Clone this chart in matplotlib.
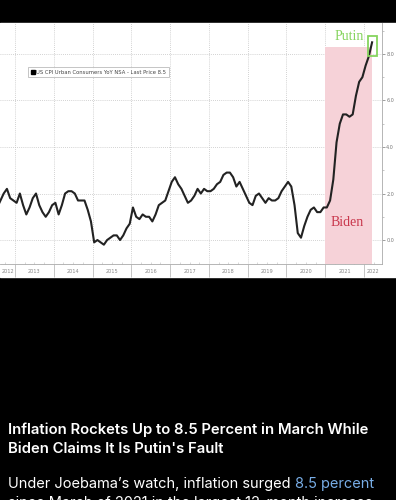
import matplotlib.pyplot as plt
from matplotlib.patches import Rectangle
from matplotlib.lines import Line2D
import matplotlib.transforms as mtransforms

# US CPI YoY NSA, monthly, Jul 2012 .. Mar 2022
start_year = 2012
start_month = 7
cpi_2012 = [1.4, 1.7, 2.0, 2.2, 1.8, 1.7]
cpi_2013 = [1.6, 2.0, 1.5, 1.1, 1.4, 1.8, 2.0, 1.5, 1.2, 1.0, 1.2, 1.5]
cpi_2014 = [1.6, 1.1, 1.5, 2.0, 2.1, 2.1, 2.0, 1.7, 1.7, 1.7, 1.3, 0.8]
cpi_2015 = [-0.1, 0.0, -0.1, -0.2, 0.0, 0.1, 0.2, 0.2, 0.0, 0.2, 0.5, 0.7]
cpi_2016 = [1.4, 1.0, 0.9, 1.1, 1.0, 1.0, 0.8, 1.1, 1.5, 1.6, 1.7, 2.1]
cpi_2017 = [2.5, 2.7, 2.4, 2.2, 1.9, 1.6, 1.7, 1.9, 2.2, 2.0, 2.2, 2.1]
cpi_2018 = [2.1, 2.2, 2.4, 2.5, 2.8, 2.9, 2.9, 2.7, 2.3, 2.5, 2.2, 1.9]
cpi_2019 = [1.6, 1.5, 1.9, 2.0, 1.8, 1.6, 1.8, 1.7, 1.7, 1.8, 2.1, 2.3]
cpi_2020 = [2.5, 2.3, 1.5, 0.3, 0.1, 0.6, 1.0, 1.3, 1.4, 1.2, 1.2, 1.4]
cpi_2021 = [1.4, 1.7, 2.6, 4.2, 5.0, 5.4, 5.4, 5.3, 5.4, 6.2, 6.8, 7.0]
cpi_2022 = [7.5, 7.9, 8.5]

year_labels = [str(y) for y in range(2012, 2023)]
y_ticks = [0, 2, 4, 6, 8]
biden_start = 2021.0
shade_top = 8.3
last_price = 8.5

cpi = (cpi_2012 + cpi_2013 + cpi_2014 + cpi_2015 + cpi_2016 + cpi_2017
       + cpi_2018 + cpi_2019 + cpi_2020 + cpi_2021 + cpi_2022)
t = [start_year + (start_month - 1 + i + 0.5) / 12 for i in range(len(cpi))]

W, H = 396, 500
fig = plt.figure(figsize=(W / 100, H / 100), dpi=100, facecolor='black')
fig.patches.append(Rectangle((0, 1 - 277 / H), 1, 254 / H, transform=fig.transFigure,
                             color='white', zorder=-5))

ax = fig.add_axes([0, 1 - 264 / H, 382 / W, 241 / H])
ax.set_facecolor('white')
x0, x1 = 2012.613, 2022.464
ax.set_xlim(x0, x1)
ax.set_ylim(-1.03, 9.33)

for s in ['left', 'top']:
    ax.spines[s].set_visible(False)
for s in ['right', 'bottom']:
    ax.spines[s].set_color('#aaaaaa')
    ax.spines[s].set_linewidth(0.6)

# y axis on the right
ax.yaxis.tick_right()
ax.set_yticks(y_ticks)
ax.set_yticklabels([f'{v:.1f}' for v in y_ticks])
ax.set_yticks([1, 3, 5, 7, 9], minor=True)
ax.tick_params(axis='y', which='major', labelsize=3.5, labelcolor='#777777',
               color='#777777', length=2, width=0.5, pad=1)
ax.tick_params(axis='y', which='minor', color='#999999', length=1.2, width=0.4)

# x axis: year separators + quarter marks
yrs = list(range(2013, 2023))
ax.set_xticks(yrs)
ax.set_xticklabels([])
ax.set_xticks([y + q / 4 for y in range(2012, 2023) for q in range(1, 4)
               if x0 < y + q / 4 < x1], minor=True)
ax.tick_params(axis='x', which='major', direction='out', length=9.5, width=0.6, color='#bbbbbb')
ax.tick_params(axis='x', which='minor', direction='in', length=1.5, width=0.4, color='#bbbbbb')

trans = mtransforms.blended_transform_factory(ax.transData, ax.transAxes)
for lab in year_labels:
    y = int(lab)
    c = (max(y, x0) + min(y + 1, x1)) / 2
    ax.text(c, -0.033, lab, transform=trans, ha='center', va='center',
            fontsize=3.6, color='#888888', clip_on=False)

ax.grid(True, which='major', linestyle=(0, (1, 1.5)), color='#c4c4c4', linewidth=0.6)
ax.set_axisbelow(True)

# Biden shading
ax.add_patch(Rectangle((biden_start, -1.03), t[-1] - biden_start, shade_top + 1.03,
                       facecolor='#f6d2d8', edgecolor='none', zorder=1))

ax.plot(t, cpi, color='#222222', lw=1.5, zorder=3, solid_joinstyle='round')

ax.text(2021.56, 0.77, 'Biden', fontsize=10, color='#c9374c', ha='center', va='center',
        family='Liberation Serif', zorder=4)
ax.text(2021.61, 8.77, 'Putin', fontsize=10, color='#86d45e', ha='center', va='center',
        family='Liberation Serif', zorder=4)
ax.add_patch(Rectangle((2022.10, 7.91), 0.24, 0.86, fill=False, edgecolor='#86d45e',
                       lw=1.3, zorder=4))

# last price tag
ax.text(1.01, last_price, f'{last_price}', transform=trans, fontsize=3.3, color='white',
        fontweight='bold', ha='left', va='center', clip_on=False,
        bbox=dict(boxstyle='round,pad=0.35', fc='black', ec='none'))

handle = Line2D([], [], marker='s', color='black', linestyle='none', markersize=3)
leg = ax.legend([handle], ['US CPI Urban Consumers YoY NSA - Last Price 8.5'],
                loc='upper left', bbox_to_anchor=(0.073, 0.817), fontsize=3.8,
                frameon=True, fancybox=False, borderpad=0.5, handletextpad=0.3,
                handlelength=0.8, borderaxespad=0)
leg.get_frame().set_edgecolor('#999999')
leg.get_frame().set_linewidth(0.5)
for txt in leg.get_texts():
    txt.set_color('#444444')

# caption text below
font = ['Inter', 'DejaVu Sans']
fig.text(8 / W, 1 - 430 / H, 'Inflation Rockets Up to 8.5 Percent in March While',
         color='white', fontsize=10.7, fontweight='semibold', family=font, va='center')
fig.text(8 / W, 1 - 449 / H, "Biden Claims It Is Putin's Fault",
         color='white', fontsize=10.7, fontweight='semibold', family=font, va='center')
t1 = fig.text(8 / W, 1 - 484 / H, 'Under Joebama\u2019s watch, inflation surged ',
              color='white', fontsize=10.5, family=font, va='center')
fig.text(8 / W, 1 - 503 / H, 'since March of 2021 in the largest 12-month increase',
         color='white', fontsize=10.5, family=font, va='center')
ax.annotate('8.5 percent', xy=(1, 0), xycoords=t1, va='bottom', ha='left',
            color='#78ade6', fontsize=10.5, family=font, annotation_clip=False)

fig.savefig('out.png', dpi=100, facecolor='black')
